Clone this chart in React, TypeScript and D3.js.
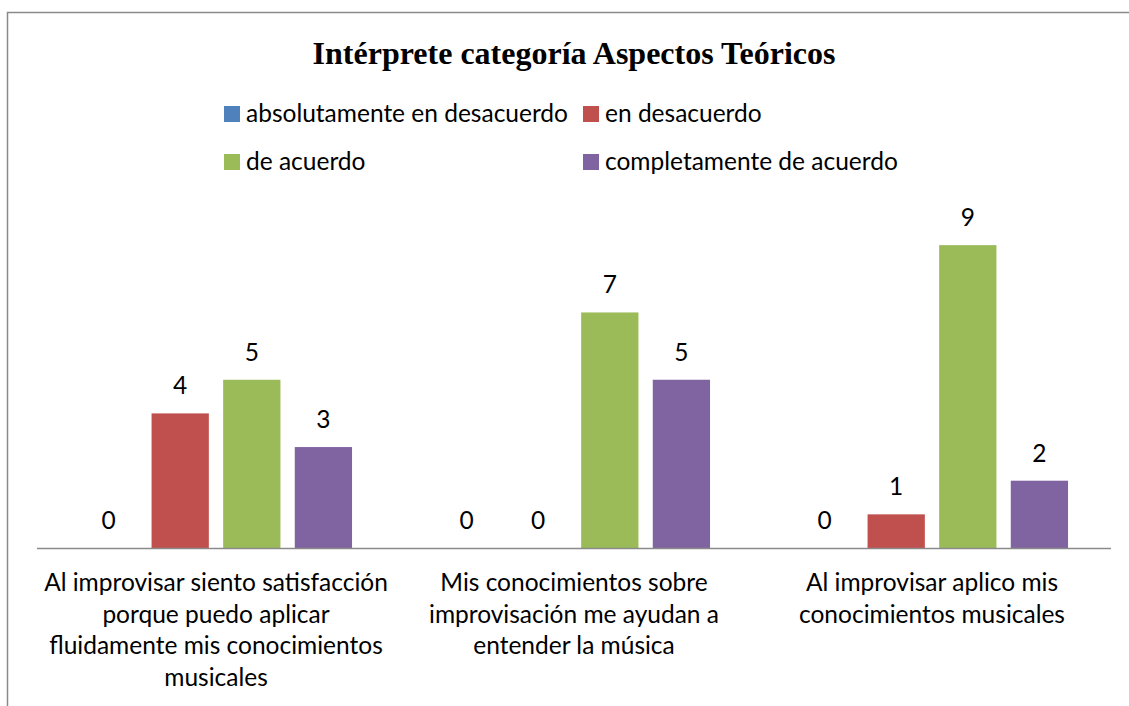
import React from "react";
import * as d3 from "d3";

const categories: string[][] = [
  ["Al improvisar siento satisfacción", "porque puedo aplicar", "fluidamente mis conocimientos", "musicales"],
  ["Mis conocimientos sobre", "improvisación me ayudan a", "entender la música"],
  ["Al improvisar aplico mis", "conocimientos musicales"],
];
const seriesNames = ["absolutamente en desacuerdo", "en desacuerdo", "de acuerdo", "completamente de acuerdo"];
const seriesColors = ["#4F81BD", "#C0504D", "#9BBB59", "#8064A2"];
const absolutamente = [0, 0, 0];
const enDesacuerdo = [4, 0, 1];
const deAcuerdo = [5, 7, 9];
const completamente = [3, 5, 2];
const seriesValues = [absolutamente, enDesacuerdo, deAcuerdo, completamente];
const title = "Intérprete categoría Aspectos Teóricos";

const W = 1129;
const H = 706;
const FONT = "Lato, 'Open Sans', sans-serif";
const FS = 24.5;

export default function App() {
  const left = 37, right = 1111, baseY = 548;
  const catIdx = categories.map((_, i) => String(i));
  const x0 = d3.scaleBand<string>().domain(catIdx).range([left, right]).padding(0);
  const x1 = d3.scaleBand<string>().domain(seriesNames).range([0, x0.bandwidth()]).paddingInner(0.2).paddingOuter(0.6);
  const y = d3.scaleLinear().domain([0, 10]).range([baseY, baseY - 336.5]);

  const legendPos = [
    { x: 224, y: 114 },
    { x: 583, y: 114 },
    { x: 224, y: 162 },
    { x: 583, y: 162 },
  ];

  return (
    <svg width={W} height={H} style={{ position: "absolute", left: 0, top: 0, background: "#fff" }}>
      <rect x={0} y={0} width={W} height={H} fill="#fff" />
      <rect x={7.5} y={12.5} width={1300} height={900} fill="none" stroke="#8a8a8a" strokeWidth={1.5} />
      <text x={574} y={64} textAnchor="middle" fontFamily="'Liberation Serif', 'Times New Roman', serif" fontWeight="bold" fontSize={32} fill="#000">
        {title}
      </text>
      {seriesNames.map((s, i) => (
        <g key={s}>
          <rect x={legendPos[i].x} y={legendPos[i].y - 8} width={16} height={16} fill={seriesColors[i]} />
          <text x={legendPos[i].x + 22} y={legendPos[i].y + 8} fontFamily={FONT} fontSize={FS} fill="#000">
            {s}
          </text>
        </g>
      ))}
      {categories.map((_, ci) =>
        seriesNames.map((s, si) => {
          const v = seriesValues[si][ci];
          const bx = (x0(String(ci)) as number) + (x1(s) as number);
          const bw = x1.bandwidth();
          return (
            <g key={`${ci}-${si}`}>
              {v > 0 && <rect x={bx} y={y(v)} width={bw} height={baseY - y(v)} fill={seriesColors[si]} />}
              <text x={bx + bw / 2} y={y(v) - 19} textAnchor="middle" fontFamily={FONT} fontSize={FS} fill="#000">
                {v}
              </text>
            </g>
          );
        })
      )}
      <line x1={left} x2={right} y1={baseY + 0.5} y2={baseY + 0.5} stroke="#8a8a8a" strokeWidth={1.5} />
      {categories.map((lines, ci) => (
        <text key={ci} textAnchor="middle" fontFamily={FONT} fontSize={FS} fill="#000">
          {lines.map((ln, li) => (
            <tspan key={li} x={(x0(String(ci)) as number) + x0.bandwidth() / 2} y={591 + li * 31.5}>
              {ln}
            </tspan>
          ))}
        </text>
      ))}
    </svg>
  );
}
